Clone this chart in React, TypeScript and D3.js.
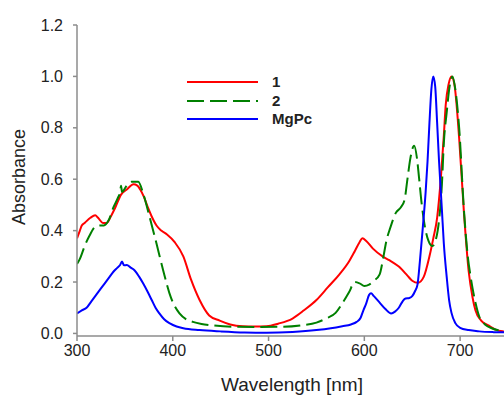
import React from "react";
import * as d3 from "d3";

const xTicks = [300, 400, 500, 600, 700];
const yTicks = [0.0, 0.2, 0.4, 0.6, 0.8, 1.0, 1.2];

const seriesNames = ["1", "2", "MgPc"];

const wl1 = [300, 303, 305, 308, 314, 319, 322, 327, 331, 336, 340, 346, 352, 359, 363, 366, 370, 374, 378, 383, 388, 394, 402, 411, 419, 428, 438, 449, 460, 473, 485, 498, 510, 525, 537, 550, 562, 574, 584, 590, 595, 598, 602, 609, 619, 626, 636, 645, 650, 656, 662, 668, 672, 676, 680, 683, 685, 688, 691, 694, 699, 704, 709, 713, 716, 722, 730, 737, 745, 750];
const abs1 = [0.37, 0.40, 0.42, 0.43, 0.45, 0.46, 0.45, 0.43, 0.43, 0.46, 0.49, 0.54, 0.56, 0.58, 0.575, 0.56, 0.53, 0.49, 0.455, 0.42, 0.40, 0.385, 0.355, 0.30, 0.21, 0.13, 0.07, 0.05, 0.035, 0.028, 0.027, 0.028, 0.038, 0.058, 0.09, 0.13, 0.18, 0.23, 0.28, 0.32, 0.355, 0.37, 0.36, 0.33, 0.30, 0.285, 0.26, 0.225, 0.205, 0.197, 0.22, 0.30, 0.37, 0.45, 0.61, 0.77, 0.89, 0.97, 1.0, 0.97, 0.76, 0.47, 0.24, 0.14, 0.09, 0.05, 0.03, 0.015, 0.008, 0.006];

const wl2 = [300, 303, 308, 313, 319, 324, 328, 333, 338, 343, 345, 346, 347, 351, 357, 364, 369, 376, 383, 390, 398, 407, 414, 421, 430, 440, 462, 490, 515, 535, 550, 560, 570, 577, 584, 590, 595, 600, 605, 610, 616, 620, 623, 627, 633, 638, 642, 645, 648, 652, 655, 657, 660, 663, 667, 671, 675, 678, 681, 683, 686, 689, 692, 695, 699, 704, 708, 711, 716, 720, 726, 733, 740, 750];
const abs2 = [0.27, 0.29, 0.34, 0.38, 0.415, 0.42, 0.42, 0.44, 0.49, 0.53, 0.55, 0.575, 0.55, 0.57, 0.59, 0.59, 0.545, 0.45, 0.35, 0.245, 0.14, 0.078, 0.055, 0.045, 0.037, 0.032, 0.026, 0.025, 0.026, 0.032, 0.042, 0.058, 0.08, 0.117, 0.16, 0.20, 0.195, 0.185, 0.19, 0.205, 0.23, 0.30, 0.36, 0.41, 0.47, 0.49, 0.52, 0.60, 0.68, 0.73, 0.68, 0.61, 0.50, 0.42, 0.36, 0.34, 0.37, 0.44, 0.58, 0.74, 0.86, 0.96, 1.0, 0.95, 0.80, 0.48, 0.30, 0.22, 0.12, 0.065, 0.035, 0.02, 0.012, 0.008];

const wl3 = [300, 305, 310, 315, 320, 325, 329, 334, 338, 342, 345, 347, 349, 352, 356, 360, 365, 369, 374, 378, 382, 386, 391, 397, 404, 411, 428, 450, 475, 498, 525, 550, 565, 577, 586, 592, 596, 599, 602, 605, 607, 610, 616, 622, 628, 632, 636, 640, 643, 647, 650, 653, 655.5, 658, 661, 664, 666, 668, 670, 672, 674, 676, 678, 681, 683, 686, 688.5, 691, 695, 700, 709, 720, 735, 750];
const abs3 = [0.078, 0.09, 0.10, 0.125, 0.15, 0.175, 0.195, 0.22, 0.24, 0.255, 0.266, 0.28, 0.265, 0.266, 0.256, 0.246, 0.22, 0.195, 0.16, 0.13, 0.10, 0.078, 0.055, 0.039, 0.027, 0.02, 0.013, 0.008, 0.004, 0.003, 0.006, 0.013, 0.02, 0.028, 0.035, 0.045, 0.06, 0.09, 0.117, 0.15, 0.156, 0.145, 0.12, 0.095, 0.078, 0.085, 0.10, 0.125, 0.136, 0.138, 0.145, 0.165, 0.19, 0.28, 0.41, 0.55, 0.67, 0.82, 0.95, 1.0, 0.96, 0.82, 0.67, 0.48, 0.35, 0.22, 0.13, 0.08, 0.04, 0.022, 0.013, 0.008, 0.005, 0.004];

const W = 504;
const H = 399;
const left = 77;
const right = 508;
const top = 25;
const bottom = 336;

const colors = ["#ff0000", "#008000", "#0000ff"];
const dashes = [null, "17,6", null];

export default function App() {
  const x = d3.scaleLinear().domain([300, 750]).range([left, right]);
  const y = d3.scaleLinear().domain([-0.01, 1.2]).range([bottom, top]);
  const line = d3
    .line<[number, number]>()
    .x((d) => x(d[0]))
    .y((d) => y(d[1]))
    .curve(d3.curveMonotoneX);

  const series = [
    d3.zip(wl1, abs1) as [number, number][],
    d3.zip(wl2, abs2) as [number, number][],
    d3.zip(wl3, abs3) as [number, number][],
  ];

  const font = "'Liberation Sans', Arial, sans-serif";
  const axisColor = "#8c8c8c";
  const legY = [82, 101, 119];

  return (
    <svg
      width={W}
      height={H}
      style={{ position: "absolute", left: 0, top: 0, background: "#fff" }}
      fontFamily={font}
    >
      <defs>
        <clipPath id="plot">
          <rect x={left} y={0} width={W - left} height={bottom} />
        </clipPath>
      </defs>
      <g clipPath="url(#plot)">
        {series.map((s, i) => (
          <path
            key={i}
            d={line(s) || ""}
            fill="none"
            stroke={colors[i]}
            strokeWidth={2}
            strokeDasharray={dashes[i] || undefined}
            strokeLinejoin="round"
          />
        ))}
      </g>
      <line x1={left} x2={left} y1={y(1.2)} y2={bottom} stroke={axisColor} strokeWidth={1.5} />
      <line x1={left} x2={W} y1={bottom} y2={bottom} stroke={axisColor} strokeWidth={1.5} />
      {yTicks.map((t) => (
        <g key={"y" + t}>
          <line x1={left - 4} x2={left} y1={y(t)} y2={y(t)} stroke={axisColor} strokeWidth={1.5} />
          <text x={left - 14} y={y(t)} dy="0.35em" textAnchor="end" fontSize={16} fill="#222">
            {t.toFixed(1)}
          </text>
        </g>
      ))}
      {xTicks.map((t) => (
        <g key={"x" + t}>
          <line x1={x(t)} x2={x(t)} y1={bottom} y2={bottom + 5} stroke={axisColor} strokeWidth={1.5} />
          <text x={x(t)} y={356} textAnchor="middle" fontSize={16} fill="#222">
            {t}
          </text>
        </g>
      ))}
      <text x={292} y={391} textAnchor="middle" fontSize={19} fill="#222">
        Wavelength [nm]
      </text>
      <text
        transform={`translate(25,177) rotate(-90)`}
        textAnchor="middle"
        fontSize={18}
        fill="#222"
      >
        Absorbance
      </text>
      {seriesNames.map((n, i) => (
        <g key={n}>
          <line
            x1={187}
            x2={258}
            y1={legY[i]}
            y2={legY[i]}
            stroke={colors[i]}
            strokeWidth={2}
            strokeDasharray={dashes[i] || undefined}
          />
          <text x={272} y={legY[i]} dy="0.35em" fontSize={15} fontWeight="bold" fill="#222">
            {n}
          </text>
        </g>
      ))}
    </svg>
  );
}
